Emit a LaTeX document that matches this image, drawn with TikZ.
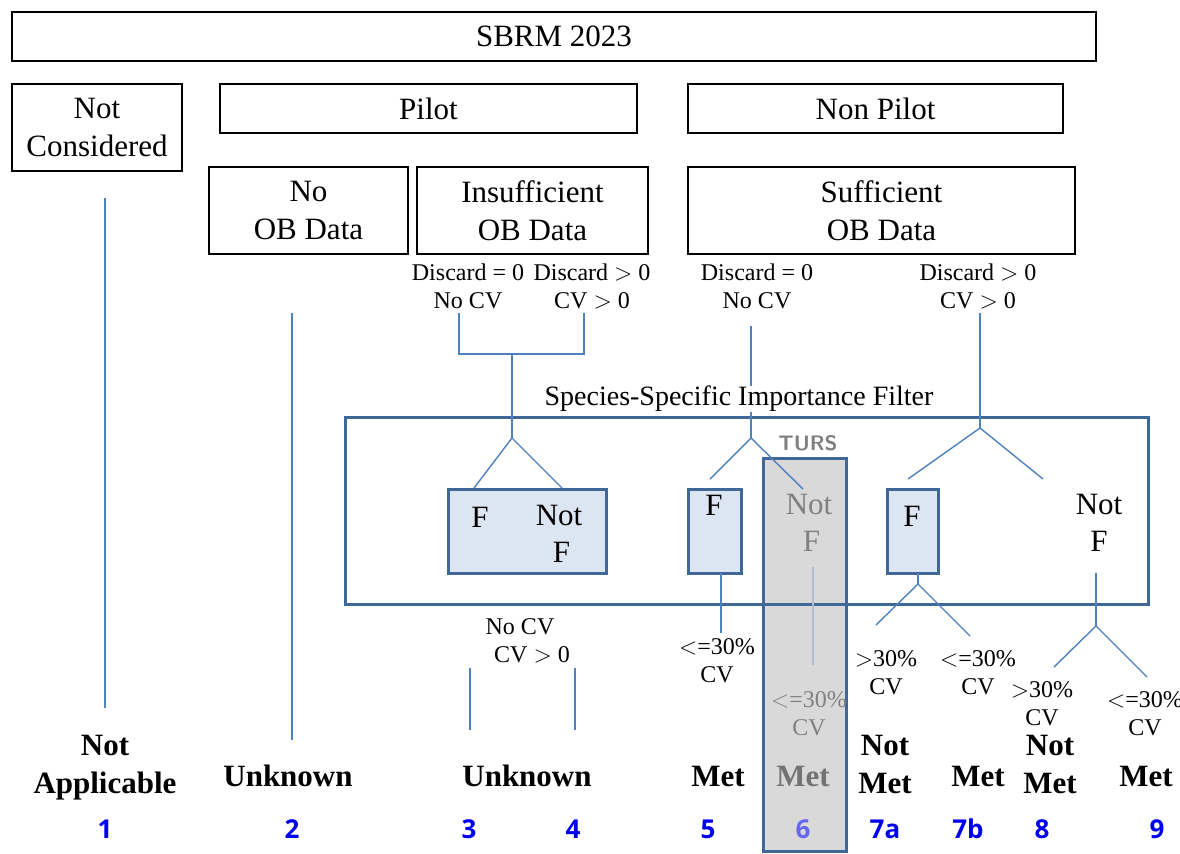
\documentclass[tikz,border=0pt]{standalone}
\usepackage{fontspec}
\setmainfont{Liberation Serif}
\newfontfamily\numfont{Open Sans}

\definecolor{lineblue}{HTML}{4F81BD}
\definecolor{frameblue}{HTML}{3F6797}
\definecolor{boxfill}{HTML}{DCE6F2}
\definecolor{tursgray}{HTML}{D9D9D9}
\definecolor{numblue}{HTML}{0000F0}

\begin{document}
\begin{tikzpicture}[
    x=0.5pt, y=-0.5pt,
    hdr/.style={draw, line width=0.8pt, align=center, inner sep=0pt,
        font=\fontsize{15.5}{19}\selectfont},
    fbox/.style={draw=frameblue, line width=1.5pt, fill=boxfill, inner sep=0pt},
    lbl/.style={align=center, inner sep=0pt, font=\fontsize{15.5}{18.5}\selectfont},
    sublbl/.style={align=center, inner sep=0pt, font=\fontsize{12}{14}\selectfont},
    res/.style={align=center, inner sep=0pt, font=\fontsize{15.5}{19}\selectfont\bfseries},
    num/.style={inner sep=0pt, text=numblue, font=\numfont\fontsize{13}{15}\selectfont\bfseries},
    conn/.style={lineblue, line width=0.7pt},
]
\useasboundingbox (0,0) rectangle (1180,853);

% --- TURS column (behind everything) ---
\fill[tursgray] (763,458) rectangle (846,851);
\draw[frameblue, line width=1.5pt] (763,458) rectangle (846,851);
\node[inner sep=0pt, text=black!50, font=\sffamily\bfseries\fontsize{10.5}{12}\selectfont]
    (turs) at (808,443) {TURS};

% --- Header boxes ---
\node[hdr, minimum width=542pt, minimum height=24.5pt] (sbrm) at (554,36.5) {SBRM 2023};
\node[hdr, minimum width=85pt, minimum height=43.5pt] (notcons) at (97,127.5) {Not\\Considered};
\node[hdr, minimum width=208.5pt, minimum height=24.5pt] (pilot) at (428.5,108.5) {Pilot};
\node[hdr, minimum width=187.5pt, minimum height=24.5pt] (nonpilot) at (875.5,108.5) {Non Pilot};
\node[hdr, minimum width=99.5pt, minimum height=43.5pt] (noob) at (308.5,210.5) {No\\OB Data};
\node[hdr, minimum width=115.5pt, minimum height=43.5pt] (insuf) at (532.5,210.5) {Insufficient\\OB Data};
\node[hdr, minimum width=193.5pt, minimum height=43.5pt] (suff) at (881.5,210.5) {Sufficient\\OB Data};

% Discard / CV labels
\node[sublbl] (discA) at (468,286) {Discard = 0\\No CV};
\node[sublbl] (discB) at (592,286) {Discard $>$ 0\\CV $>$ 0};
\node[sublbl] (discC) at (757,286) {Discard = 0\\No CV};
\node[sublbl] (discD) at (978,286) {Discard $>$ 0\\CV $>$ 0};

% --- Importance filter frame ---
\draw[frameblue, line width=1.5pt] (345,417) rectangle (1148,604);

% --- Connectors ---
\coordinate (c1top) at (105,198);
\coordinate (c1bot) at (105,708);
\draw[conn] (c1top) -- (c1bot);

\coordinate (c2top) at (292,313);
\coordinate (c2bot) at (292,740);
\draw[conn] (c2top) -- (c2bot);

% pilot bracket
\coordinate (brL) at (459,313);
\coordinate (brR) at (584,313);
\coordinate (brM) at (512,354);
\coordinate (apexA) at (512,438);
\coordinate (forkAL) at (474,488);
\coordinate (forkAR) at (562,488);
\draw[conn] (brL) -- ++(0,41) -| (brR);
\draw[conn] (brM) -- (apexA);
\draw[conn] (forkAL) -- (apexA) -- (forkAR);

% sufficient, discard = 0
\coordinate (midtop) at (751,326);
\coordinate (apexB) at (751,438);
\coordinate (forkBL) at (710,479);
\coordinate (forkBR) at (803,489);
\draw[conn] (midtop) -- (apexB);
\draw[conn] (forkBL) -- (apexB) -- (forkBR);

% sufficient, discard > 0
\coordinate (rtop) at (980,313);
\coordinate (apexC) at (980,428);
\coordinate (forkCL) at (908,479);
\coordinate (forkCR) at (1043,479);
\draw[conn] (rtop) -- (apexC);
\draw[conn] (forkCL) -- (apexC) -- (forkCR);

\node[lbl, fill=white, font=\fontsize{14}{16}\selectfont] (ssif) at (739,399)
    {Species-Specific Importance Filter};

% --- Filter outcome boxes ---
\node[fbox, minimum width=79pt, minimum height=42pt] (fA) at (527,531) {};
\node[lbl] (fAf) at (480,517) {F};
\node[lbl] (fAnot) at (559,534) {Not\\\,F};

\node[fbox, minimum width=26.5pt, minimum height=42pt] (fB) at (714.5,531) {};
\node[lbl] (fBf) at (714,505) {F};

\node[lbl, text=black!50] (notfB) at (809,523) {Not\\\,F};

\node[fbox, minimum width=25.5pt, minimum height=42pt] (fC) at (912.5,531) {};
\node[lbl] (fCf) at (912,516) {F};

\node[lbl] (notfC) at (1099,523) {Not\\F};

% --- Below the filter ---
\coordinate (fBbot) at (721,573);
\coordinate (fBend) at (721,633);
\draw[conn] (fBbot) -- (fBend);

\coordinate (gtop) at (813,567);
\coordinate (gbot) at (813,665);
\draw[lineblue!70!black!40, line width=0.7pt] (gtop) -- (gbot);

\coordinate (fCbot) at (918,573);
\coordinate (apexD) at (918,584);
\coordinate (forkDL) at (876,625);
\coordinate (forkDR) at (970,636);
\draw[conn] (fCbot) -- (apexD);
\draw[conn] (forkDL) -- (apexD) -- (forkDR);

\coordinate (nfbot) at (1096,573);
\coordinate (apexE) at (1096,626);
\coordinate (forkEL) at (1054,667);
\coordinate (forkER) at (1147,677);
\draw[conn] (nfbot) -- (apexE);
\draw[conn] (forkEL) -- (apexE) -- (forkER);

\coordinate (u3top) at (470,668);
\coordinate (u3bot) at (470,730);
\coordinate (u4top) at (575,668);
\coordinate (u4bot) at (575,730);
\draw[conn] (u3top) -- (u3bot);
\draw[conn] (u4top) -- (u4bot);

% CV labels
\node[sublbl] (cvA) at (520,641) {No CV\\\quad CV $>$ 0};
\node[sublbl] (cvB) at (717,661) {$<$=30\%\\CV};
\node[sublbl, text=black!50] (cvC) at (809,714) {$<$=30\%\\CV};
\node[sublbl] (cvD) at (886,673) {$>$30\%\\CV};
\node[sublbl] (cvE) at (978,673) {$<$=30\%\\CV};
\node[sublbl] (cvF) at (1042,704) {$>$30\%\\CV};
\node[sublbl] (cvG) at (1145,714) {$<$=30\%\\CV};

% --- Results ---
\node[res] (r1) at (105,768) {Not\\Applicable};
\node[res] (r2) at (288,776) {Unknown};
\node[res] (r34) at (527,776) {Unknown};
\node[res] (r5) at (718,776) {Met};
\node[res, text=black!55] (r6) at (803,776) {Met};
\node[res] (r7a) at (885,764) {Not\\Met};
\node[res] (r7b) at (978,776) {Met};
\node[res] (r8) at (1050,764) {Not\\Met};
\node[res] (r9) at (1146,776) {Met};

% numbers
\foreach \x/\n in {105/1, 292/2, 469/3, 573/4, 708/5, 885/7a, 968/7b, 1042/8, 1157/9} {
    \node[num] (n\n) at (\x,829) {\n};
}
\node[num, text=numblue!60!white] (n6) at (803,829) {6};

\end{tikzpicture}
\end{document}
